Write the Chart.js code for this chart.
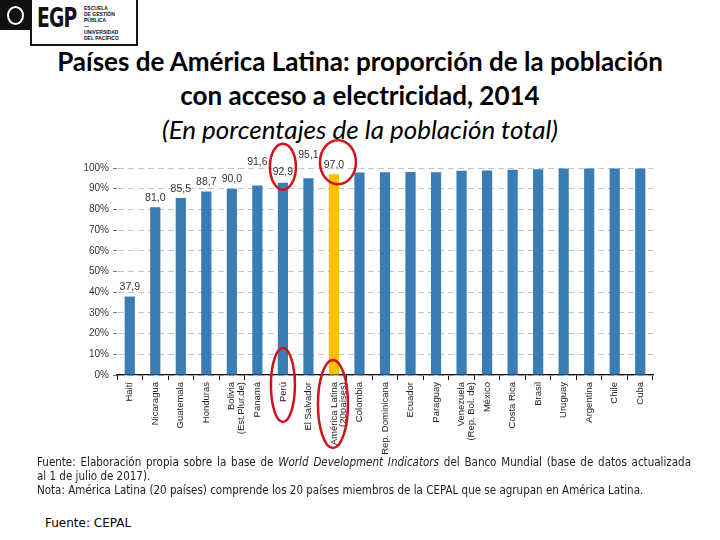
<!DOCTYPE html>
<html>
<head>
<meta charset="utf-8">
<script src="https://cdn.jsdelivr.net/npm/chart.js@4/dist/chart.umd.min.js"></script>
<style>
  body { margin: 0; width: 720px; height: 540px; background: #fff; position: relative; overflow: hidden; font-family: "Liberation Sans", Arial, sans-serif; }
  #logo-seal { position: absolute; left: 0; top: 0; width: 30px; height: 30px; background: #111; }
  #logo-seal div { position: absolute; left: 7px; top: 6px; width: 13px; height: 15px; border: 2px solid #fff; border-radius: 50%; }
  #logo-box { position: absolute; left: 30px; top: 0; width: 104px; height: 44px; border: 2px solid #111; border-top: none; }
  #logo-box .egp { position: absolute; left: 5px; top: 3px; font: bold 26px "DejaVu Sans Condensed", "Liberation Sans Narrow", sans-serif; letter-spacing: -1px; color: #111; transform: scaleX(0.8); transform-origin: left; }
  #logo-box .small { position: absolute; left: 52px; top: 5px; font: bold 5px "Liberation Sans", sans-serif; line-height: 6px; color: #111; }
  #title { position: absolute; left: 0; top: 44px; width: 720px; text-align: center; font: bold 26px Lato, sans-serif; line-height: 34px; color: #000; }
  #title i { font-weight: normal; }
  #notes { position: absolute; left: 37px; top: 455px; width: 654px; font: 11.5px "Liberation Sans Narrow", "DejaVu Sans Condensed", sans-serif; line-height: 14px; color: #222; }
  #notes .j { text-align: justify; text-align-last: justify; }
  #source { position: absolute; left: 45px; top: 516px; font: 12px "DejaVu Sans", sans-serif; color: #000; }
  #wrap { position: absolute; left: 0; top: 135px; width: 720px; height: 330px; }
</style>
</head>
<body>
<div id="logo-seal"><div></div></div>
<div id="logo-box">
  <div class="egp">EGP</div>
  <div class="small">ESCUELA<br>DE GESTIÓN<br>PÚBLICA<br>—<br>UNIVERSIDAD<br>DEL PACÍFICO</div>
</div>
<div id="title">Países de América Latina: proporción de la población<br>con acceso a electricidad, 2014<br><i>(En porcentajes de la población total)</i></div>
<div id="wrap"><canvas id="chart" width="720" height="330"></canvas></div>
<div id="notes"><div class="j">Fuente: Elaboración propia sobre la base de <i>World Development Indicators</i> del Banco Mundial (base de datos actualizada</div>al 1 de julio de 2017).<br>Nota: América Latina (20 países) comprende los 20 países miembros de la CEPAL que se agrupan en América Latina.</div>
<div id="source">Fuente: CEPAL</div>

<script>
// countries, in chart order
const countries = [
  "Haití", "Nicaragua", "Guatemala", "Honduras", ["Bolivia", "(Est.Plur.de)"],
  "Panamá", "Perú", "El Salvador", ["América Latina", "(20países)"], "Colombia",
  "Rep. Dominicana", "Ecuador", "Paraguay", ["Venezuela", "(Rep. Bol. de)"], "México",
  "Costa Rica", "Brasil", "Uruguay", "Argentina", "Chile", "Cuba"
];
// share of population with electricity (%)
const access = [
  37.9, 81.0, 85.5, 88.7, 90.0,
  91.6, 92.9, 95.1, 97.0, 97.8,
  98.0, 98.1, 98.0, 98.7, 98.8,
  99.2, 99.4, 99.7, 99.7, 99.8, 99.8
];
// value labels printed above the first bars
const valueLabels = ["37,9", "81,0", "85,5", "88,7", "90,0", "91,6", "92,9", "95,1", "97,0"];
const yTicks = [0, 10, 20, 30, 40, 50, 60, 70, 80, 90, 100];

const BLUE = "#3a7db5";
const GOLD = "#ffc000";

const barColors = countries.map(c => (Array.isArray(c) && c[0] === "América Latina") ? GOLD : BLUE);

// labels on top of bars, two of them lifted to avoid overlap
const valueLabelPlugin = {
  id: "valueLabels",
  afterDatasetsDraw(chart) {
    const ctx = chart.ctx;
    const bars = chart.getDatasetMeta(0).data;
    ctx.save();
    ctx.font = "10.5px 'Liberation Sans', Arial, sans-serif";
    ctx.fillStyle = "#333";
    ctx.textAlign = "center";
    ctx.textBaseline = "bottom";
    valueLabels.forEach((txt, i) => {
      const lift = (i === 5 || i === 7) ? 18 : (i === 6 ? 5 : 4);
      ctx.fillText(txt, bars[i].x, bars[i].y - lift);
    });
    ctx.restore();
  }
};

// hand-drawn red ellipses around Perú and América Latina
const ellipsePlugin = {
  id: "ellipses",
  afterDraw(chart) {
    const ctx = chart.ctx;
    const bars = chart.getDatasetMeta(0).data;
    const bottom = chart.chartArea.bottom;
    const iPeru = countries.indexOf("Perú");
    const iAL = countries.findIndex(c => Array.isArray(c) && c[0] === "América Latina");
    const shapes = [
      { x: bars[iPeru].x, y: bars[iPeru].y - 16, rx: 13, ry: 23 },
      { x: bars[iPeru].x, y: bottom + 10, rx: 12, ry: 37 },
      { x: bars[iAL].x + 4, y: bars[iAL].y - 12, rx: 18, ry: 22 },
      { x: bars[iAL].x - 1, y: bottom + 29, rx: 15, ry: 44 }
    ];
    ctx.save();
    ctx.strokeStyle = "#d0131b";
    ctx.lineWidth = 2.5;
    shapes.forEach(s => {
      ctx.beginPath();
      ctx.ellipse(s.x, s.y, s.rx, s.ry, 0, 0, Math.PI * 2);
      ctx.stroke();
    });
    ctx.restore();
  }
};

new Chart(document.getElementById("chart"), {
  type: "bar",
  data: {
    labels: countries,
    datasets: [{
      data: access,
      backgroundColor: barColors,
      barPercentage: 0.4,
      categoryPercentage: 1.0
    }]
  },
  options: {
    responsive: false,
    animation: false,
    layout: { padding: { left: 0, right: 67, top: 33, bottom: 0 } },
    plugins: { legend: { display: false }, tooltip: { enabled: false } },
    scales: {
      x: {
        afterFit: s => { s.height = 90; },
        border: { color: "#111", width: 1.2 },
        grid: { offset: true, drawOnChartArea: false, drawTicks: true, tickLength: 5, tickColor: "#111" },
        ticks: {
          autoSkip: false, minRotation: 90, maxRotation: 90, padding: 2,
          color: "#222", font: { family: "'Liberation Sans', Arial, sans-serif", size: 9.5, lineHeight: 1.0 }
        }
      },
      y: {
        min: 0, max: 100,
        afterFit: s => { s.width = 117; },
        afterBuildTicks: s => { s.ticks = yTicks.map(v => ({ value: v })); },
        border: { display: true, color: "rgba(0,0,0,0)", dash: [6, 4] },
        grid: { color: "#c4c4c4", lineWidth: 1, tickLength: 4, tickColor: "#777", tickBorderDash: [] },
        ticks: {
          padding: 4, color: "#333",
          font: { family: "'Liberation Sans', Arial, sans-serif", size: 10 },
          callback: v => v + "%"
        }
      }
    }
  },
  plugins: [valueLabelPlugin, ellipsePlugin]
});
</script>
</body>
</html>
